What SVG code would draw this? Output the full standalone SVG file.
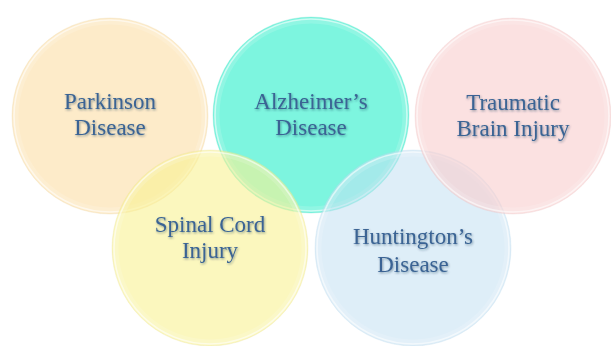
<svg xmlns="http://www.w3.org/2000/svg" width="611" height="346" viewBox="0 0 611 346">
  <defs>
    <style>
      .label { font-family: "Liberation Serif", "Times New Roman", serif; font-size: 23px; fill: #3A6494; text-anchor: middle; filter: url(#textShadow); }
      .rim { fill: none; stroke: #ffffff; stroke-width: 1.6; stroke-opacity: 0.55; }
      .halo { fill: none; stroke: #ffffff; stroke-width: 5; stroke-opacity: 0.15; }
      .edge { fill: none; stroke-width: 1; stroke-opacity: 0.25; }
    </style>
    <filter id="textShadow" x="-10%" y="-30%" width="120%" height="160%">
      <feDropShadow dx="0.8" dy="1.2" stdDeviation="0.9" flood-color="#1c2f48" flood-opacity="0.45"/>
    </filter>
  </defs>

  <rect width="611" height="346" fill="#ffffff"/>

  <!-- Parkinson Disease -->
  <g id="parkinson">
    <circle cx="110" cy="116" r="98" fill="#FDEBC9"/>
    <circle class="halo" cx="110" cy="116" r="94"/>
    <circle class="rim" cx="110" cy="116" r="96"/>
    <circle class="edge" cx="110" cy="116" r="98" stroke="#e8cf9c"/>
    <text class="label" x="110" y="109">Parkinson</text>
    <text class="label" x="110" y="135">Disease</text>
  </g>

  <!-- Alzheimer's Disease -->
  <g id="alzheimer">
    <circle cx="311" cy="115" r="98" fill="#7DF5DF"/>
    <circle class="halo" cx="311" cy="115" r="94"/>
    <circle class="rim" cx="311" cy="115" r="96"/>
    <circle class="edge" cx="311" cy="115" r="98" stroke="#4fd8bf"/>
    <text class="label" x="311" y="109">Alzheimer’s</text>
    <text class="label" x="311" y="135">Disease</text>
  </g>

  <!-- Spinal Cord Injury -->
  <g id="spinal-cord">
    <circle cx="210" cy="248" r="98" fill="#F8F293" fill-opacity="0.6"/>
    <circle class="halo" cx="210" cy="248" r="94"/>
    <circle class="rim" cx="210" cy="248" r="96"/>
    <circle class="edge" cx="210" cy="248" r="98" stroke="#e4dc90"/>
    <text class="label" x="210" y="232">Spinal Cord</text>
    <text class="label" x="210" y="258">Injury</text>
  </g>

  <!-- Huntington's Disease -->
  <g id="huntington">
    <circle cx="413" cy="248" r="98" fill="#C3E0F2" fill-opacity="0.55"/>
    <circle class="halo" cx="413" cy="248" r="94"/>
    <circle class="rim" cx="413" cy="248" r="96"/>
    <circle class="edge" cx="413" cy="248" r="98" stroke="#b3d3e6"/>
    <text class="label" x="413" y="244">Huntington’s</text>
    <text class="label" x="413" y="272">Disease</text>
  </g>

  <!-- Traumatic Brain Injury -->
  <g id="traumatic-brain">
    <circle cx="513" cy="116" r="98" fill="#F8CDCD" fill-opacity="0.6"/>
    <circle class="halo" cx="513" cy="116" r="94"/>
    <circle class="rim" cx="513" cy="116" r="96"/>
    <circle class="edge" cx="513" cy="116" r="98" stroke="#e8c0c0"/>
    <text class="label" x="513" y="110">Traumatic</text>
    <text class="label" x="513" y="136">Brain Injury</text>
  </g>
</svg>
